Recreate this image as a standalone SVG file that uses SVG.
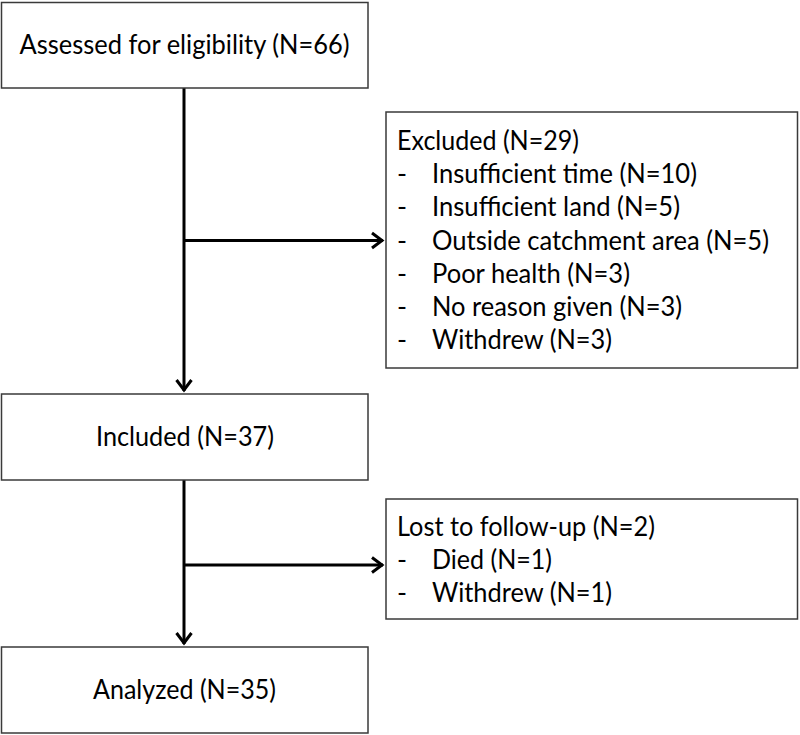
<svg xmlns="http://www.w3.org/2000/svg" width="800" height="735" viewBox="0 0 800 735">
<style>
.box{fill:#fff;stroke:#3a3a3a;stroke-width:1.5}
.t{font-family:Lato,"Liberation Sans",sans-serif;font-size:27px;fill:#000}
.c{text-anchor:middle}
.ln{fill:none;stroke:#000;stroke-width:3}
</style>
<defs>
<marker id="ah" markerUnits="userSpaceOnUse" markerWidth="20" markerHeight="20" viewBox="-12 -10 14 20" refX="0" refY="0" orient="auto">
<path d="M-11,-7.5 L-1,0 L-11,7.5" fill="none" stroke="#000" stroke-width="3" stroke-linejoin="miter"/>
</marker>
</defs>
<rect width="800" height="735" fill="#fff"/>
<g id="connectors">
<path class="ln" d="M184,88 V391" marker-end="url(#ah)"/>
<path class="ln" d="M184,240.5 H383" marker-end="url(#ah)"/>
<path class="ln" d="M184,480 V644" marker-end="url(#ah)"/>
<path class="ln" d="M184,565 H383" marker-end="url(#ah)"/>
</g>
<g id="assessed">
<rect class="box" x="1.5" y="2.5" width="366.5" height="85.5"/>
<text class="t c" x="184.5" y="54" textLength="330" lengthAdjust="spacingAndGlyphs">Assessed for eligibility (N=66)</text>
</g>
<g id="excluded">
<rect class="box" x="386" y="112" width="411.5" height="256"/>
<text class="t" x="397" y="150" textLength="182" lengthAdjust="spacingAndGlyphs">Excluded (N=29)</text>
<text class="t" x="397" y="183">-</text><text class="t" x="432" y="183" textLength="265" lengthAdjust="spacingAndGlyphs">Insufficient time (N=10)</text>
<text class="t" x="397" y="216">-</text><text class="t" x="432" y="216" textLength="248" lengthAdjust="spacingAndGlyphs">Insufficient land (N=5)</text>
<text class="t" x="397" y="249.5">-</text><text class="t" x="432" y="249.5" textLength="337" lengthAdjust="spacingAndGlyphs">Outside catchment area (N=5)</text>
<text class="t" x="397" y="282.5">-</text><text class="t" x="432" y="282.5" textLength="198" lengthAdjust="spacingAndGlyphs">Poor health (N=3)</text>
<text class="t" x="397" y="316">-</text><text class="t" x="432" y="316" textLength="250" lengthAdjust="spacingAndGlyphs">No reason given (N=3)</text>
<text class="t" x="397" y="349">-</text><text class="t" x="432" y="349" textLength="180" lengthAdjust="spacingAndGlyphs">Withdrew (N=3)</text>
</g>
<g id="included">
<rect class="box" x="1.5" y="394" width="366.5" height="86"/>
<text class="t c" x="185" y="446" textLength="178" lengthAdjust="spacingAndGlyphs">Included (N=37)</text>
</g>
<g id="lost">
<rect class="box" x="386" y="499" width="411.5" height="120"/>
<text class="t" x="397" y="536" textLength="258" lengthAdjust="spacingAndGlyphs">Lost to follow-up (N=2)</text>
<text class="t" x="397" y="569">-</text><text class="t" x="432" y="569" textLength="120" lengthAdjust="spacingAndGlyphs">Died (N=1)</text>
<text class="t" x="397" y="602">-</text><text class="t" x="432" y="602" textLength="180" lengthAdjust="spacingAndGlyphs">Withdrew (N=1)</text>
</g>
<g id="analyzed">
<rect class="box" x="1.5" y="647" width="366.5" height="86"/>
<text class="t c" x="184.5" y="699" textLength="183" lengthAdjust="spacingAndGlyphs">Analyzed (N=35)</text>
</g>
</svg>
